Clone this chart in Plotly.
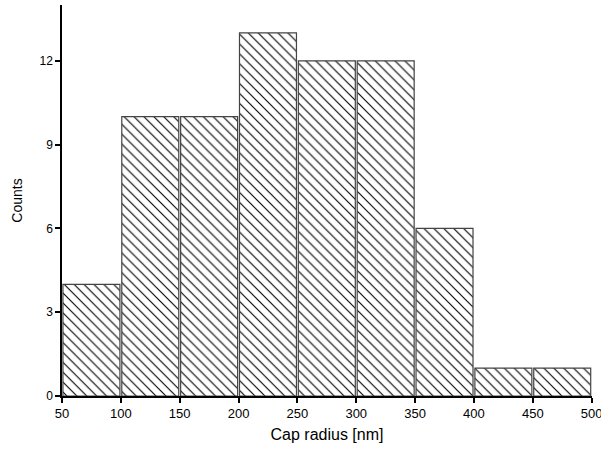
import plotly.graph_objects as go

bin_starts = [50, 100, 150, 200, 250, 300, 350, 400, 450]
counts = [4, 10, 10, 13, 12, 12, 6, 1, 1]
bin_width = 50
x_ticks = [50, 100, 150, 200, 250, 300, 350, 400, 450, 500]
y_ticks = [0, 3, 6, 9, 12]

centers = [s + bin_width / 2 for s in bin_starts]

fig = go.Figure()
fig.add_trace(go.Bar(
    x=centers, y=counts, width=bin_width * 0.968,
    marker=dict(
        color="white",
        line=dict(color="#444444", width=1.2),
        pattern=dict(shape="\\", size=7, solidity=0.16, fgcolor="black", fgopacity=1, bgcolor="white"),
    ),
    showlegend=False,
))

axis_font = dict(family="Liberation Sans, Arial, sans-serif", size=12, color="black")
fig.update_layout(
    width=601, height=452,
    margin=dict(l=62, r=9, t=5, b=56, autoexpand=False),
    plot_bgcolor="white", paper_bgcolor="white",
    font=axis_font,
    xaxis=dict(
        range=[50, 500.3], tickvals=x_ticks, ticks="outside", ticklen=5, tickwidth=1.5,
        tickcolor="black", showline=True, linecolor="black", linewidth=1.5,
        showgrid=False, zeroline=False, automargin=False, ticklabeloverflow="allow",
        tickfont=dict(size=13),
        title=dict(text="Cap radius [nm]", font=dict(size=16), standoff=8),
    ),
    yaxis=dict(
        range=[0, 14], tickvals=y_ticks, ticks="outside", ticklen=5, tickwidth=1.5,
        tickcolor="black", showline=True, linecolor="black", linewidth=1.5,
        showgrid=False, zeroline=False, automargin=False,
        tickfont=dict(size=12),
        title=dict(text="Counts", font=dict(size=14), standoff=14),
    ),
)

fig.write_html("out.html", config={"displayModeBar": False},
               post_script="document.body.style.margin='0';document.body.style.padding='0';")
